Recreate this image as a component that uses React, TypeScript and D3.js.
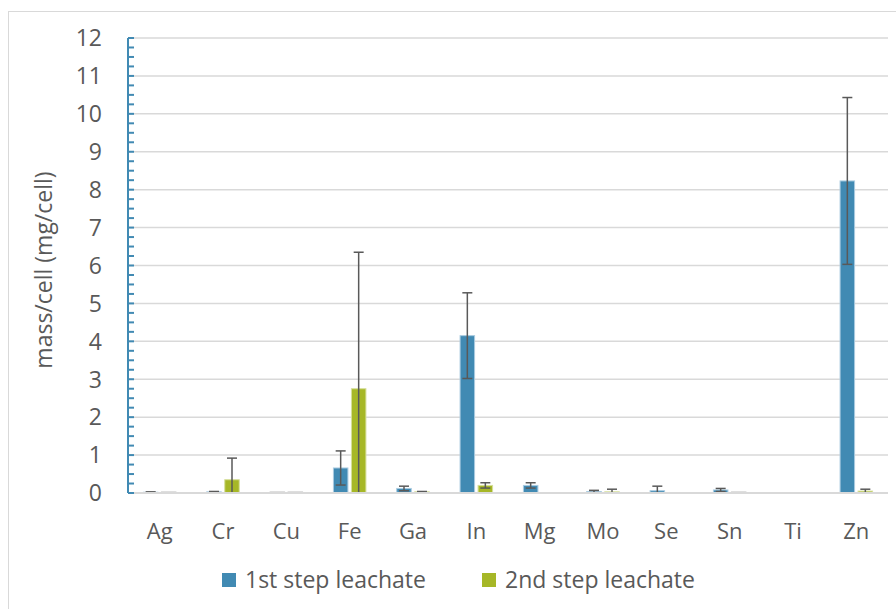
import React from "react";
import * as d3 from "d3";

const elements = ["Ag", "Cr", "Cu", "Fe", "Ga", "In", "Mg", "Mo", "Se", "Sn", "Ti", "Zn"];
const firstStep = [0.02, 0.03, 0.01, 0.66, 0.12, 4.15, 0.2, 0.04, 0.06, 0.08, 0, 8.23];
const firstStepErr = [0.01, 0.01, 0, 0.45, 0.06, 1.13, 0.07, 0.03, 0.12, 0.04, 0, 2.2];
const secondStep = [0.01, 0.35, 0.01, 2.75, 0.03, 0.2, 0, 0.03, 0, 0.01, 0, 0.05];
const secondStepErr = [0, 0.57, 0, 3.6, 0.01, 0.07, 0, 0.07, 0, 0, 0, 0.05];
const seriesNames = ["1st step leachate", "2nd step leachate"];
const yTicks = [0, 1, 2, 3, 4, 5, 6, 7, 8, 9, 10, 11, 12];

const colors = ["#418AB3", "#A6B727"];
const strokes = ["#A9CBE0", "#D5DE9A"];
const font = "'Open Sans', sans-serif";
const textColor = "#595959";

export default function App() {
  const W = 896, H = 609;
  const left = 128, right = 888, top = 38, bottom = 493;
  const x = d3.scaleBand<string>().domain(elements).range([left, right]).padding(0);
  const y = d3.scaleLinear().domain([0, 12]).range([bottom, top]);
  const minor = d3.range(0, 12.001, 0.25);
  const barW = 14.5;
  const offsets = [-9, 9];
  const series = [
    { vals: firstStep, errs: firstStepErr },
    { vals: secondStep, errs: secondStepErr },
  ];

  return (
    <svg width={W} height={H} style={{ position: "absolute", left: 0, top: 0 }}>
      <rect x={8.5} y={11.5} width={W} height={H} fill="#fff" stroke="#d9d9d9" />
      {yTicks.map((t) => (
        <line key={"g" + t} x1={left} x2={right} y1={y(t)} y2={y(t)} stroke="#d9d9d9" strokeWidth={1.5} />
      ))}
      {series.map((s, si) =>
        elements.map((e, i) => {
          const cx = (x(e) as number) + x.bandwidth() / 2 + offsets[si];
          const v = s.vals[i];
          if (v <= 0) return null;
          const tiny = v < 0.02;
          return (
            <rect
              key={si + e}
              x={cx - barW / 2}
              y={y(v) - (tiny ? 1 : 0)}
              width={barW}
              height={Math.max(bottom - y(v), 0.8) + (tiny ? 1 : 0)}
              fill={tiny ? "#d0d0d0" : colors[si]}
              stroke={tiny ? "#dcdcdc" : strokes[si]}
              strokeWidth={1}
            />
          );
        })
      )}
      {series.map((s, si) =>
        elements.map((e, i) => {
          const cx = (x(e) as number) + x.bandwidth() / 2 + offsets[si];
          const v = s.vals[i];
          const er = s.errs[i];
          if (v <= 0 || er <= 0) return null;
          const hi = y(v + er);
          const lo = y(Math.max(v - er, 0));
          return (
            <g key={"e" + si + e} stroke="#595959" strokeWidth={1.5}>
              <line x1={cx} x2={cx} y1={hi} y2={lo} />
              <line x1={cx - 5} x2={cx + 5} y1={hi} y2={hi} />
              {v - er > 0 && <line x1={cx - 5} x2={cx + 5} y1={lo} y2={lo} />}
            </g>
          );
        })
      )}
      <line x1={left} x2={right} y1={bottom} y2={bottom} stroke="#d9d9d9" strokeWidth={2} />
      <line x1={left} x2={left} y1={top} y2={bottom} stroke="#418AB3" strokeWidth={2} />
      {minor.map((t) => (
        <line key={"m" + t} x1={left} x2={left + 6} y1={y(t)} y2={y(t)} stroke="#418AB3" strokeWidth={2} />
      ))}
      {yTicks.map((t) => (
        <text key={"t" + t} x={102} y={y(t)} dy="0.36em" textAnchor="end" fontFamily={font} fontSize={23} fill={textColor}>
          {t}
        </text>
      ))}
      {elements.map((e) => (
        <text key={"c" + e} x={(x(e) as number) + x.bandwidth() / 2} y={539} textAnchor="middle" fontFamily={font} fontSize={22} fill={textColor}>
          {e}
        </text>
      ))}
      <text transform={`translate(52,270) rotate(-90)`} textAnchor="middle" fontFamily={font} fontSize={23} fill={textColor}>
        mass/cell (mg/cell)
      </text>
      {seriesNames.map((n, i) => (
        <g key={n} transform={`translate(${[222, 482][i]},573)`}>
          <rect width={14} height={14} fill={colors[i]} />
          <text x={23} y={7} dy="0.36em" fontFamily={font} fontSize={23} fill={textColor}>
            {n}
          </text>
        </g>
      ))}
    </svg>
  );
}
